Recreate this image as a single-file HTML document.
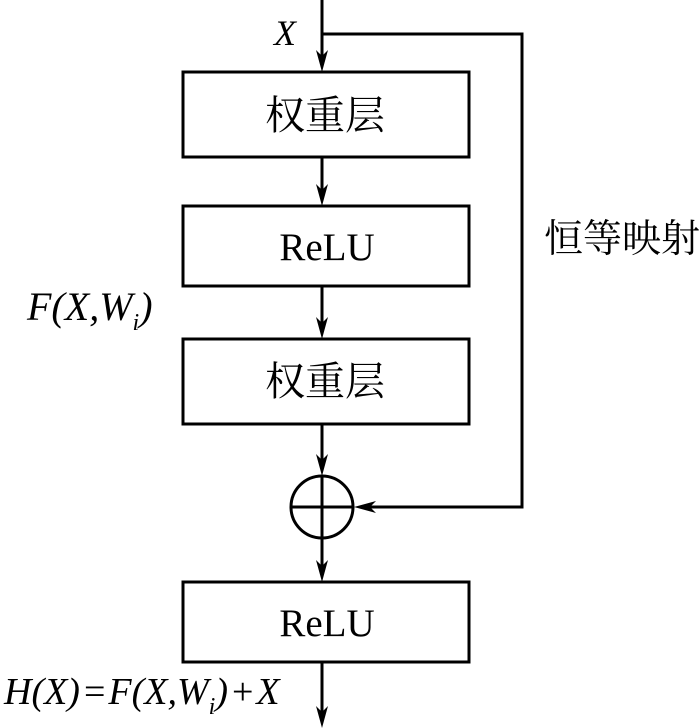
<!DOCTYPE html>
<html><head><meta charset="utf-8"><style>
body{margin:0;background:#fff}
svg{display:block}
.t{font-family:"Liberation Serif","Noto Serif CJK SC",serif;fill:#000}
.i{font-style:italic}
</style></head><body>
<svg width="700" height="728" viewBox="0 0 700 728" xmlns="http://www.w3.org/2000/svg">
<g stroke="#000" stroke-width="3" fill="none">
<line x1="322" y1="0" x2="322" y2="60"/>
<polyline points="322,34 522,34 522,507 370,507"/>
<rect x="183" y="72" width="286" height="85"/>
<line x1="322" y1="157" x2="322" y2="195"/>
<rect x="183" y="206" width="286" height="80"/>
<line x1="322" y1="286" x2="322" y2="328"/>
<rect x="183" y="339" width="286" height="85"/>
<line x1="322" y1="424" x2="322" y2="466"/>
<circle cx="322" cy="507" r="31"/>
<line x1="291" y1="507" x2="353" y2="507"/>
<line x1="322" y1="476" x2="322" y2="572"/>
<rect x="183" y="582" width="286" height="80"/>
<line x1="322" y1="662" x2="322" y2="715"/>
</g>
<g fill="#000">
<polygon points="322,72 316,50 322,56 328,50"/>
<polygon points="322,206 316,184 322,190 328,184"/>
<polygon points="322,339 316,317 322,323 328,317"/>
<polygon points="322,476 316,454 322,460 328,454"/>
<polygon points="322,582 316,560 322,566 328,560"/>
<polygon points="322,728 316,706 322,712 328,706"/>
<polygon points="354,507 376,501 370,507 376,513"/>
</g>
<text class="t i" x="274" y="45" font-size="36">X</text>
<text class="t" x="325" y="129" font-size="40" text-anchor="middle">权重层</text>
<text class="t" x="327" y="260" font-size="39" text-anchor="middle">ReLU</text>
<text class="t" x="325" y="395" font-size="40" text-anchor="middle">权重层</text>
<text class="t" x="327" y="636" font-size="39" text-anchor="middle">ReLU</text>
<text class="t" x="544" y="252" font-size="39">恒等映射</text>
<text class="t i" x="27" y="320" font-size="40">F(X,W<tspan font-size="24" dy="10">i</tspan><tspan dy="-10">)</tspan></text>
<text class="t i" x="4" y="704" font-size="38">H(X)<tspan font-style="normal" dx="4">=</tspan><tspan dx="3">F(X,W</tspan><tspan font-size="24" dy="10">i</tspan><tspan dy="-10">)</tspan><tspan font-style="normal" dx="4">+</tspan><tspan dx="3">X</tspan></text>
</svg>
</body></html>
